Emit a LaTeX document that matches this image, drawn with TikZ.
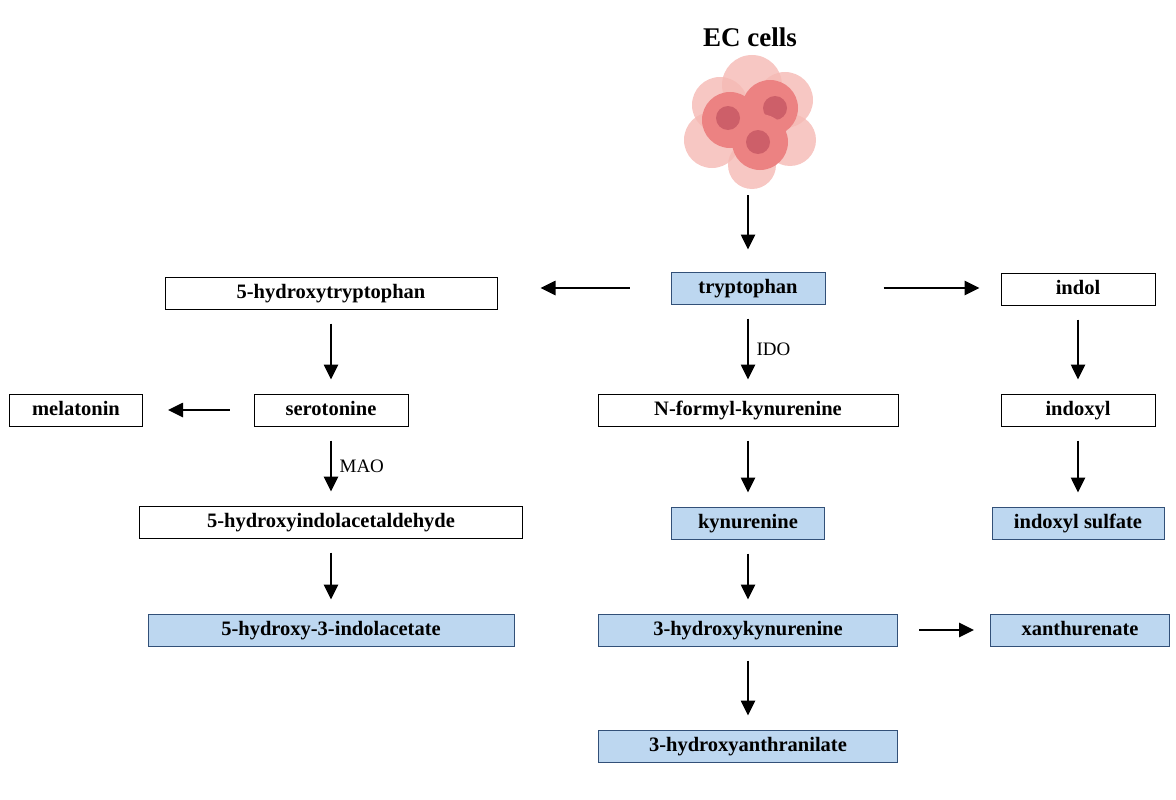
\documentclass[tikz,border=0pt]{standalone}
\usepackage{fontspec}
\setmainfont{Liberation Serif}
\usetikzlibrary{positioning,arrows.meta}
\definecolor{boxblue}{RGB}{189,215,240}
\definecolor{edgeblue}{RGB}{50,80,120}
\definecolor{cellpink}{RGB}{236,130,130}
\definecolor{cellpale}{RGB}{245,185,180}
\definecolor{cellcore}{RGB}{205,95,105}
\begin{document}
\begin{tikzpicture}[x=1pt,y=-1pt,
  mbox/.style={draw,line width=1pt,minimum height=32pt,inner sep=0pt,
    text height=14pt,text depth=4pt,
    font=\fontsize{20.5}{24}\selectfont\bfseries},
  hit/.style={mbox,fill=boxblue,draw=edgeblue},
  flow/.style={line width=2.6pt,-{Triangle[length=15pt,width=14pt]},shorten >=14pt,shorten <=14pt},
  enz/.style={font=\fontsize{19}{22}\selectfont,right=4pt,midway}]
  \useasboundingbox (0,0) rectangle (1176,800);

  \node[font=\fontsize{27}{30}\selectfont\bfseries] (title) at (750,37) {EC cells};

  % cell cluster
  \foreach \cx/\cy/\r in {752/85/30,720/105/28,785/100/28,712/140/28,790/140/26,752/165/24}
    \fill[cellpale,opacity=.8] (\cx,\cy) circle (\r);
  \foreach \cx/\cy/\r/\kx/\ky in {730/120/28/728/118,770/108/28/775/108,760/142/28/758/142}
    {\fill[cellpink] (\cx,\cy) circle (\r);
     \fill[cellcore] (\kx,\ky) circle (12);}
  \coordinate (cells) at (748,185);

  % middle column
  \node[hit,minimum width=154pt] (trp) at (748,288) {tryptophan};
  \node[mbox,minimum width=300pt] (nfk) at (748,410) {N-formyl-kynurenine};
  \node[hit,minimum width=153pt] (kyn) at (748,523) {kynurenine};
  \node[hit,minimum width=299pt] (hk) at (748,630) {3-hydroxykynurenine};
  \node[hit,minimum width=299pt] (haa) at (748,746) {3-hydroxyanthranilate};

  % left column
  \node[mbox,minimum width=332pt] (htp) at (331,293) {5-hydroxytryptophan};
  \node[mbox,minimum width=154pt] (ser) at (331,410) {serotonine};
  \node[mbox,minimum width=133pt] (mel) at (76,410) {melatonin};
  \node[mbox,minimum width=383pt] (hald) at (331,522) {5-hydroxyindolacetaldehyde};
  \node[hit,minimum width=366pt] (hiaa) at (331,630) {5-hydroxy-3-indolacetate};

  % right column
  \node[mbox,minimum width=154pt] (ind) at (1078,289) {indol};
  \node[mbox,minimum width=154pt] (inx) at (1078,410) {indoxyl};
  \node[hit,minimum width=172pt] (ins) at (1078,523) {indoxyl sulfate};
  \node[hit,minimum width=179pt] (xan) at (1080,630) {xanthurenate};

  \draw[flow,shorten <=10pt,shorten >=22pt] (cells) -- (trp);
  \draw[flow,shorten <=41pt,shorten >=43pt] (trp.west) -- (trp.west -| htp.east);
  \draw[flow,shorten <=58pt,shorten >=21pt] (trp.east) -- (ind.west |- trp.east);
  \draw[flow] (trp) -- node[enz] {IDO} (nfk);
  \draw[flow] (nfk) -- (kyn);
  \draw[flow] (kyn) -- (hk);
  \draw[flow] (hk) -- (haa);
  \draw[flow,shorten <=21pt,shorten >=16pt] (hk) -- (xan);
  \draw[flow] (htp) -- (ser);
  \draw[flow,shorten <=24pt,shorten >=25pt] (ser) -- (mel);
  \draw[flow] (ser) -- node[enz] {MAO} (hald);
  \draw[flow] (hald) -- (hiaa);
  \draw[flow] (ind) -- (inx);
  \draw[flow] (inx) -- (ins);
\end{tikzpicture}
\end{document}
